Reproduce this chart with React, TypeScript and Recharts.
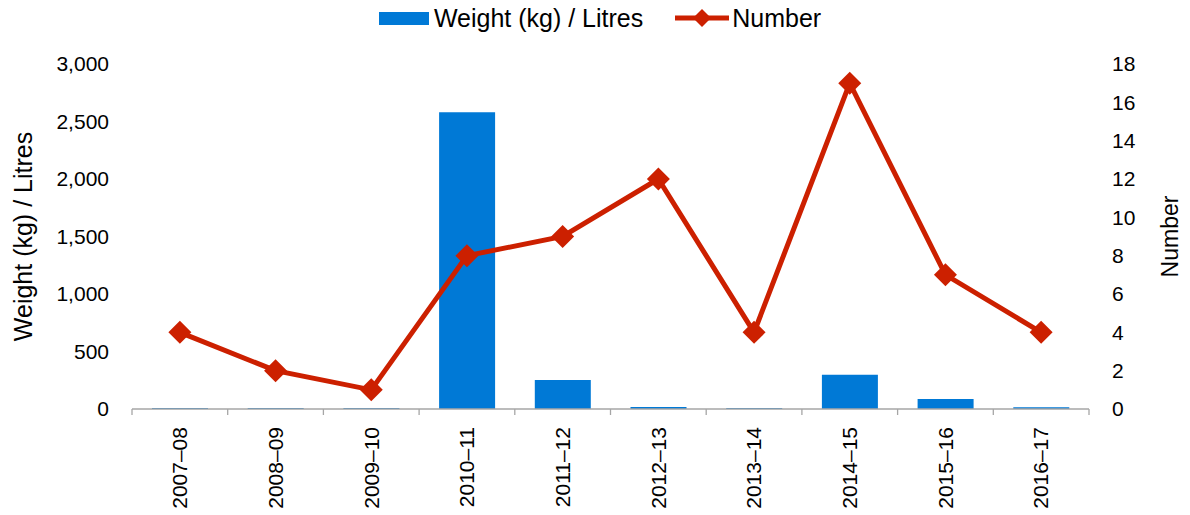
import React from "react";
import { ComposedChart, Bar, Line, XAxis, YAxis, Legend } from "recharts";

// Seizures per financial year: weight/volume (bars, left axis) and count (line, right axis)
const seasons = ["2007–08", "2008–09", "2009–10", "2010–11", "2011–12", "2012–13", "2013–14", "2014–15", "2015–16", "2016–17"];
const weightLitres = [8, 8, 8, 2580, 252, 18, 8, 298, 88, 16];
const numberSeized = [4, 2, 1, 8, 9, 12, 4, 17, 7, 4];
const weightTicks = [0, 500, 1000, 1500, 2000, 2500, 3000];
const numberTicks = [0, 2, 4, 6, 8, 10, 12, 14, 16, 18];

const rows = seasons.map((season, i) => ({
  season,
  weight: weightLitres[i],
  number: numberSeized[i],
}));

const W = 1190;
const H = 515;
const LEFT_W = 132;
const RIGHT_W = 101;
const BLUE = "#0079D6";
const RED = "#CC2000";
const AXIS = "#A6A6A6";
const FONT = '"Liberation Sans", Arial, Helvetica, sans-serif';

// category label, plus the boundary tick marks between categories
function SeasonTick(props: any) {
  const { x, y, payload, index, width, visibleTicksCount } = props;
  const count = visibleTicksCount || seasons.length;
  const step = (typeof width === "number" && width > 0 ? width : W - LEFT_W - RIGHT_W) / count;
  const ty = y + 18;
  return (
    <g>
      <line x1={x - step / 2} x2={x - step / 2} y1={y} y2={y + 6} stroke={AXIS} strokeWidth={1.3} />
      {index === count - 1 && (
        <line x1={x + step / 2} x2={x + step / 2} y1={y} y2={y + 6} stroke={AXIS} strokeWidth={1.3} />
      )}
      <text
        x={x}
        y={ty}
        dy="0.35em"
        textAnchor="end"
        transform={`rotate(-90 ${x} ${ty})`}
        fontSize={21}
        fill="#000"
        fontFamily={FONT}
      >
        {payload.value}
      </text>
    </g>
  );
}

function Diamond(props: any) {
  const { cx, cy } = props;
  if (cx == null || cy == null) return null;
  const r = 11.5;
  return (
    <polygon
      points={`${cx},${cy - r} ${cx + r},${cy} ${cx},${cy + r} ${cx - r},${cy}`}
      fill={RED}
    />
  );
}

function LegendRow() {
  return (
    <div style={{ height: 64, display: "flex", justifyContent: "center", paddingLeft: 10, boxSizing: "border-box", fontFamily: FONT }}>
      <div style={{ display: "flex", alignItems: "center", height: 36, fontSize: 25, color: "#000" }}>
        <span style={{ display: "inline-block", width: 50, height: 13, background: BLUE, marginRight: 5 }} />
        <span>Weight (kg) / Litres</span>
        <svg width={54} height={24} style={{ marginLeft: 32, marginRight: 3 }}>
          <line x1={0} x2={54} y1={12} y2={12} stroke={RED} strokeWidth={5} />
          <polygon points="27,3 36,12 27,21 18,12" fill={RED} />
        </svg>
        <span>Number</span>
      </div>
    </div>
  );
}

function AxisTitle(props: any & { text: string; dx: number; size: number; shift: number }) {
  const vb = props.viewBox || {};
  const cx = vb.x + props.dx;
  const cy = vb.y + vb.height / 2 + props.shift;
  return (
    <text
      x={cx}
      y={cy}
      dy="0.35em"
      textAnchor="middle"
      transform={`rotate(-90 ${cx} ${cy})`}
      fontSize={props.size}
      fill="#000"
      fontFamily={FONT}
    >
      {props.text}
    </text>
  );
}

export default function App() {
  return (
    <div style={{ position: "absolute", left: 0, top: 0, width: W, height: H, background: "#fff", fontFamily: FONT }}>
      <ComposedChart width={W} height={H} data={rows} margin={{ top: 0, right: 0, bottom: 0, left: 0 }}>
        <Legend verticalAlign="top" content={<LegendRow />} wrapperStyle={{ top: 0, left: 0, width: W }} />
        <XAxis
          dataKey="season"
          xAxisId="s"
          height={106}
          interval={0}
          tickSize={0}
          tickMargin={0}
          tickLine={false}
          axisLine={{ stroke: AXIS, strokeWidth: 1.3 }}
          tick={<SeasonTick />}
        />
        <YAxis
          yAxisId="w"
          orientation="left"
          width={LEFT_W}
          domain={[0, 3000]}
          ticks={weightTicks}
          tickFormatter={(v: number) => v.toLocaleString("en-US")}
          axisLine={false}
          tickLine={false}
          tickSize={0}
          tickMargin={23}
          tick={{ fill: "#000", fontSize: 21, fontFamily: FONT }}
          label={{ content: <AxisTitle text="Weight (kg) / Litres" dx={23} size={25} shift={0} /> }}
        />
        <YAxis
          yAxisId="n"
          orientation="right"
          width={RIGHT_W}
          domain={[0, 18]}
          ticks={numberTicks}
          axisLine={false}
          tickLine={false}
          tickSize={0}
          tickMargin={23}
          tick={{ fill: "#000", fontSize: 21, fontFamily: FONT }}
          label={{ content: <AxisTitle text="Number" dx={81} size={23} shift={0} /> }}
        />
        <Bar
          xAxisId="s"
          yAxisId="w"
          dataKey="weight"
          name="Weight (kg) / Litres"
          fill={BLUE}
          barSize={56}
          isAnimationActive={false}
        />
        <Line
          xAxisId="s"
          yAxisId="n"
          dataKey="number"
          name="Number"
          stroke={RED}
          strokeWidth={5}
          dot={<Diamond />}
          activeDot={false}
          isAnimationActive={false}
        />
      </ComposedChart>
    </div>
  );
}
